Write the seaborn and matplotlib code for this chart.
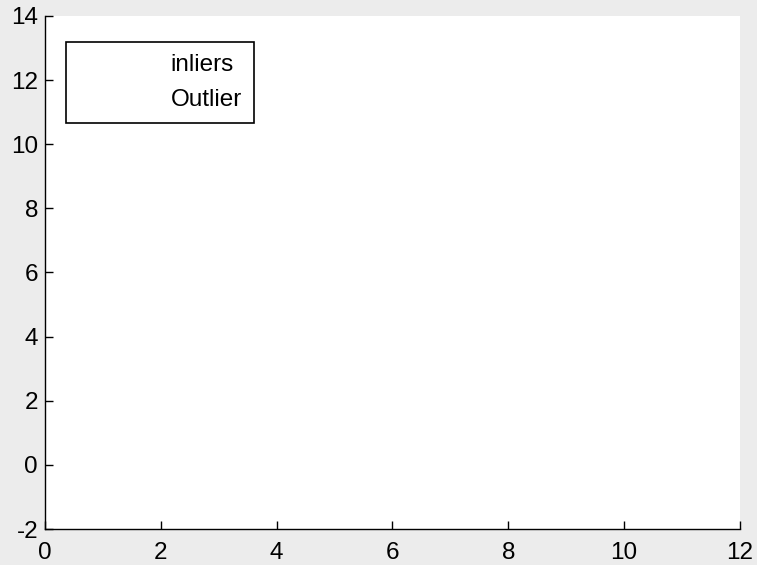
import seaborn as sns
import matplotlib.pyplot as plt

# Data (both series are empty in the reference)
inliers_x = []
inliers_y = []
outlier_x = []
outlier_y = []
series_labels = ["inliers", "Outlier"]

x_ticks = [0, 2, 4, 6, 8, 10, 12]
y_ticks = [-2, 0, 2, 4, 6, 8, 10, 12, 14]

sns.set_theme(style="ticks")
plt.rcParams["font.family"] = ["Liberation Sans", "DejaVu Sans"]
plt.rcParams["axes.unicode_minus"] = False

fig = plt.figure(figsize=(7.57, 5.65), dpi=100, facecolor="#ececec")
ax = fig.add_axes([0.0594, 0.0637, 0.9181, 0.908])
ax.set_facecolor("white")

ax.plot(inliers_x, inliers_y, linestyle="none", marker="none", label=series_labels[0])
ax.plot(outlier_x, outlier_y, linestyle="none", marker="none", label=series_labels[1])

ax.set_xlim(0, 12)
ax.set_ylim(-2, 14)
ax.set_xticks(x_ticks)
ax.set_yticks(y_ticks)
ax.tick_params(direction="in", length=6, width=1, color="black",
               labelsize=17.5, labelcolor="black")
ax.tick_params(axis="y", pad=5)
ax.tick_params(axis="x", pad=9)
sns.despine(ax=ax)
for s in ["left", "bottom"]:
    ax.spines[s].set_color("black")
    ax.spines[s].set_linewidth(1)

leg = ax.legend(loc="upper left", bbox_to_anchor=(0.0302, 0.949), fontsize=17.5,
                frameon=True, fancybox=False, edgecolor="black",
                handlelength=3.3, handletextpad=0.5, borderpad=0.5,
                labelspacing=0.52, borderaxespad=0)
leg.get_frame().set_linewidth(1.2)
leg.get_frame().set_alpha(1)
for t in leg.get_texts():
    t.set_color("black")

fig.savefig("out.png", dpi=100, facecolor=fig.get_facecolor())
